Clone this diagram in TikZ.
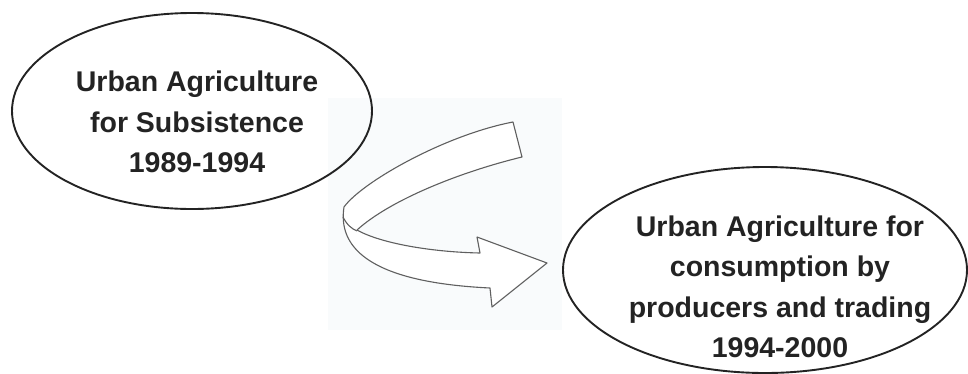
\documentclass[tikz,border=0pt]{standalone}
\usepackage{fontspec}
\setmainfont{Liberation Sans}
\usetikzlibrary{shapes.geometric}
\definecolor{inkgray}{RGB}{35,35,35}
\definecolor{arrowgray}{RGB}{95,95,95}
\definecolor{faintbg}{RGB}{249,251,252}
\tikzset{
  stageoval/.style={draw=inkgray, line width=1.9pt, ellipse, inner sep=0pt},
  stagetext/.style={align=center, text=inkgray, font=\fontsize{28.5}{40.5}\selectfont\bfseries, inner sep=0pt},
  ribbon/.style={draw=arrowgray, line width=1.1pt, fill=white, line join=round}
}
\begin{document}
\begin{tikzpicture}[x=1pt,y=-1pt]
\useasboundingbox (0,0) rectangle (968,373);
\fill[faintbg] (328,98) rectangle (562,330);
\node[stageoval, minimum width=360pt, minimum height=196pt] (s1) at (192,111) {};
\node[stagetext] (t1) at (197,122) {Urban Agriculture\\for Subsistence\\1989-1994};
\node[stageoval, minimum width=404pt, minimum height=206pt] (s2) at (765,270) {};
\node[stagetext] (t2) at (780,287) {Urban Agriculture for\\consumption by\\producers and trading\\1994-2000};
\draw[ribbon] (513,122) .. controls (445,135) and (362,182) .. (344,207)
  .. controls (338,245) and (365,282) .. (490,288)
  -- (492,307) -- (547,263) -- (477,237) -- (480,253)
  .. controls (430,252) and (380,243) .. (357,230)
  .. controls (390,200) and (460,172) .. (522,157) -- cycle;
\draw[ribbon, fill=none] (343,217) .. controls (347,225) and (352,229) .. (357,231);
\end{tikzpicture}
\end{document}
